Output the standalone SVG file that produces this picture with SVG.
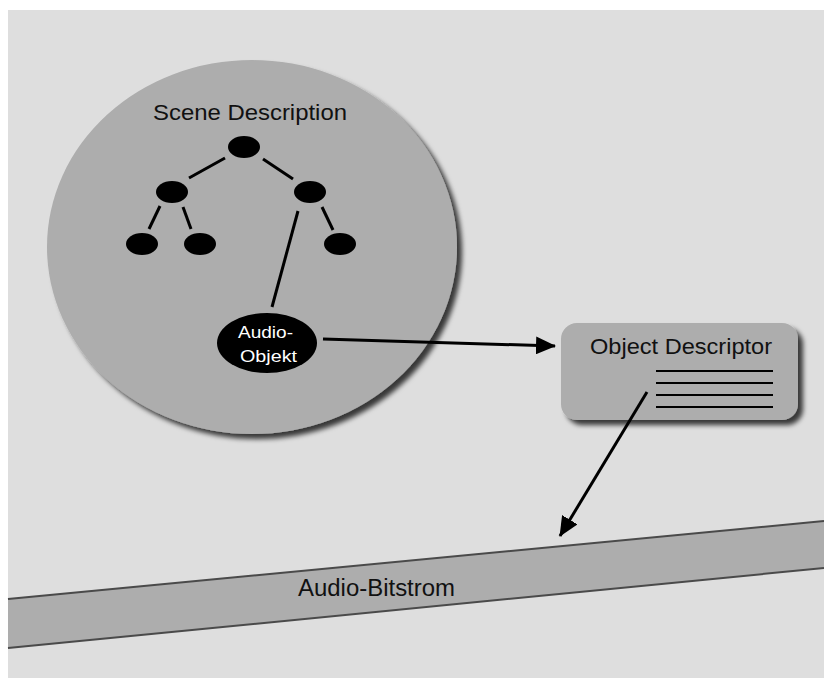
<svg xmlns="http://www.w3.org/2000/svg" width="824" height="678" viewBox="0 0 824 678">
  <defs>
    <filter id="shadow" x="-10%" y="-10%" width="125%" height="125%">
      <feDropShadow dx="5" dy="5" stdDeviation="2.5" flood-color="#000" flood-opacity="0.75"/>
    </filter>
    <marker id="arrow" viewBox="0 0 20 18" refX="19" refY="9" markerWidth="20" markerHeight="18" markerUnits="userSpaceOnUse" orient="auto">
      <path d="M0,0 L20,9 L0,18 Z" fill="#000"/>
    </marker>
    <style>
      .label { font-family: "Liberation Sans", Arial, sans-serif; fill: #111; }
      .node { fill: #000; }
      .edge { stroke: #000; stroke-width: 3; fill: none; }
      .conn { stroke: #000; stroke-width: 3; fill: none; marker-end: url(#arrow); }
    </style>
  </defs>

  <!-- canvas -->
  <rect x="0" y="0" width="824" height="678" fill="#ffffff"/>
  <rect x="8" y="10" width="816" height="668" fill="#dedede"/>

  <!-- bitstream band -->
  <g id="audio-bitstrom">
    <polygon points="8,599 824,521 824,568 8,648" fill="#adadad"/>
    <line x1="8" y1="599" x2="824" y2="521" stroke="#4a4a4a" stroke-width="2"/>
    <line x1="8" y1="648" x2="824" y2="568" stroke="#4a4a4a" stroke-width="2"/>
    <text class="label" x="298" y="596" font-size="23" textLength="157" lengthAdjust="spacingAndGlyphs">Audio-Bitstrom</text>
  </g>

  <!-- scene description disc with tree -->
  <g id="scene-description">
    <ellipse cx="252" cy="247" rx="205" ry="187" fill="#adadad" filter="url(#shadow)"/>
    <text class="label" x="153" y="120" font-size="22" textLength="194" lengthAdjust="spacingAndGlyphs">Scene Description</text>
  </g>

  <g id="tree-edges">
    <line class="edge" x1="225" y1="158" x2="189" y2="178"/>
    <line class="edge" x1="263" y1="159" x2="293" y2="179"/>
    <line class="edge" x1="160" y1="206" x2="149" y2="229"/>
    <line class="edge" x1="183" y1="207" x2="191" y2="229"/>
    <line class="edge" x1="322" y1="207" x2="333" y2="230"/>
    <line class="edge" x1="298" y1="211" x2="272" y2="307"/>
  </g>

  <g id="node-root"><ellipse class="node" cx="244" cy="147" rx="16" ry="11"/></g>
  <g id="node-left"><ellipse class="node" cx="172" cy="192" rx="16" ry="11"/></g>
  <g id="node-right"><ellipse class="node" cx="310" cy="192" rx="16" ry="11"/></g>
  <g id="leaf-1"><ellipse class="node" cx="142" cy="244" rx="16" ry="11"/></g>
  <g id="leaf-2"><ellipse class="node" cx="200" cy="244" rx="16" ry="11"/></g>
  <g id="leaf-3"><ellipse class="node" cx="340" cy="244" rx="16" ry="11"/></g>

  <g id="audio-objekt">
    <ellipse class="node" cx="267" cy="343" rx="50" ry="30"/>
    <text x="238" y="338" font-family="Liberation Sans, Arial, sans-serif" font-size="16" fill="#fff" textLength="55" lengthAdjust="spacingAndGlyphs">Audio-</text>
    <text x="240" y="362" font-family="Liberation Sans, Arial, sans-serif" font-size="16" fill="#fff" textLength="57" lengthAdjust="spacingAndGlyphs">Objekt</text>
  </g>

  <!-- object descriptor card -->
  <g id="object-descriptor">
    <rect x="561" y="323" width="237" height="97" rx="16" ry="16" fill="#adadad" filter="url(#shadow)"/>
    <text class="label" x="590" y="354" font-size="22" textLength="182" lengthAdjust="spacingAndGlyphs">Object Descriptor</text>
    <g stroke="#000" stroke-width="2">
      <line x1="656" y1="371" x2="773" y2="371"/>
      <line x1="656" y1="383" x2="773" y2="383"/>
      <line x1="656" y1="395" x2="773" y2="395"/>
      <line x1="656" y1="407" x2="773" y2="407"/>
    </g>
  </g>

  <!-- connectors -->
  <g id="connectors">
    <line class="conn" x1="323" y1="339" x2="555" y2="346"/>
    <line class="conn" x1="647" y1="392" x2="560" y2="536"/>
  </g>
</svg>
